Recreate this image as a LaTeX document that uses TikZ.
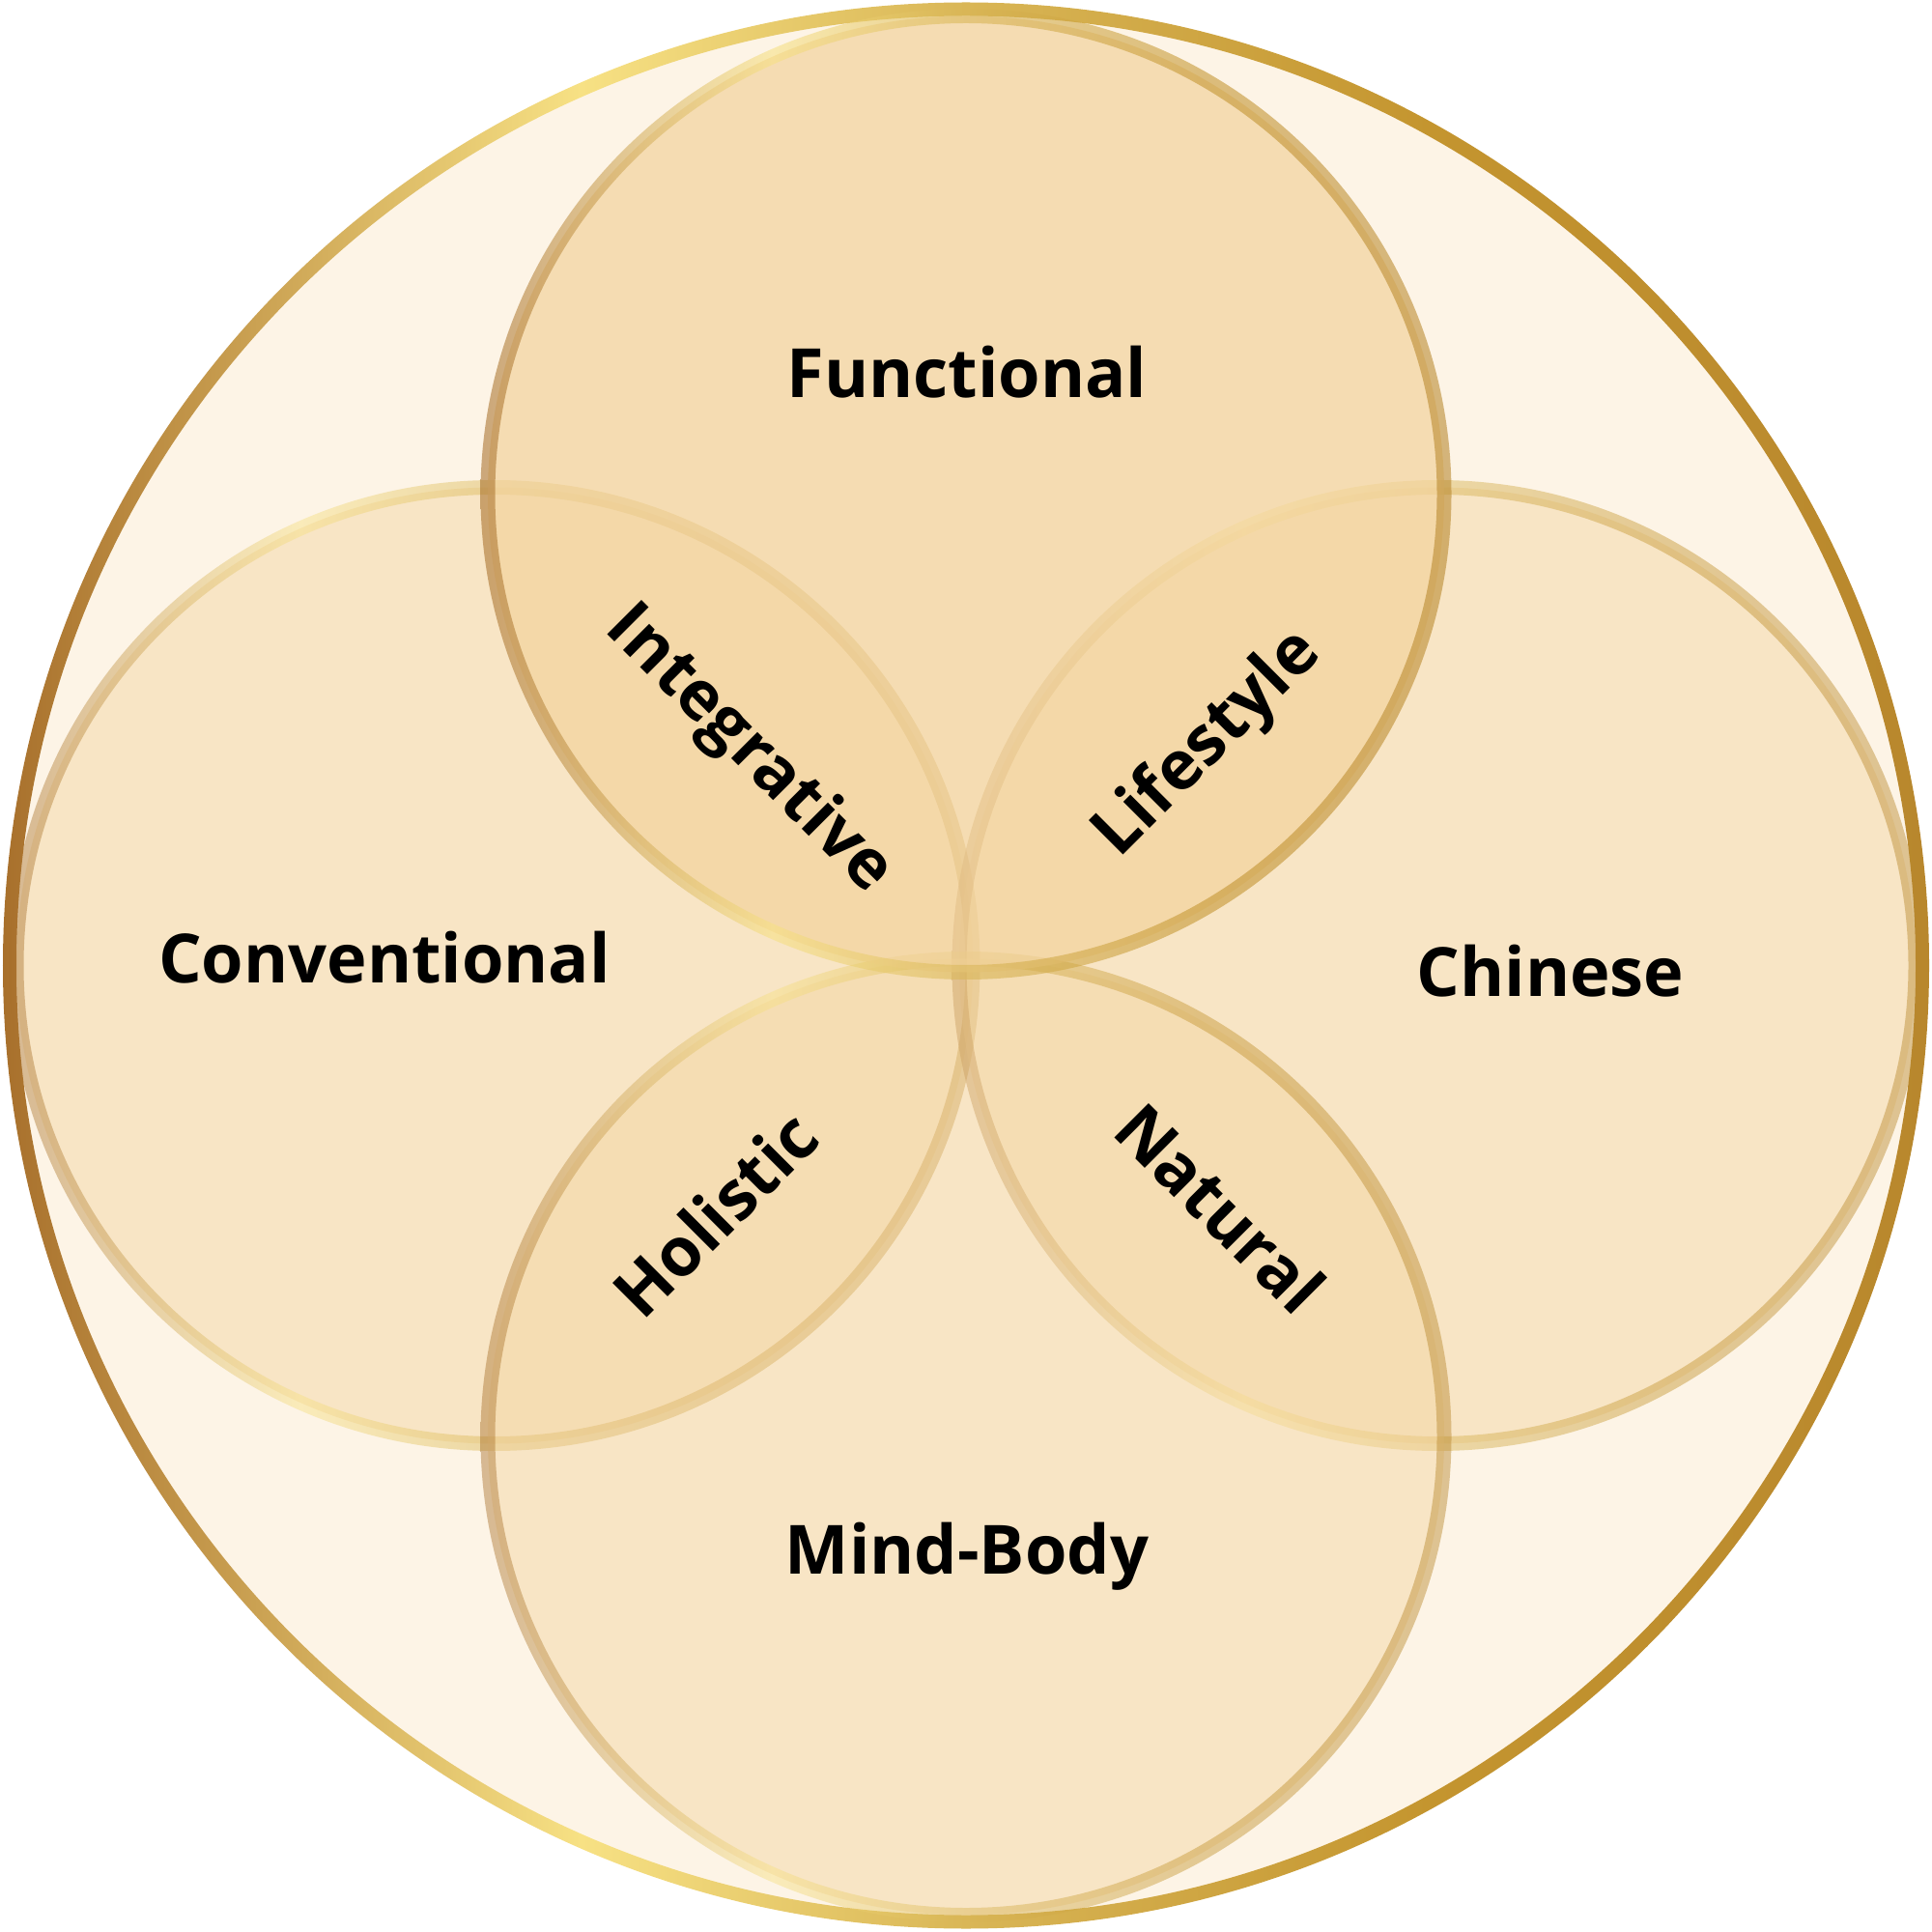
\documentclass[tikz,border=0pt]{standalone}
\usepackage{fontspec}
\setmainfont{Open Sans}
\definecolor{outerfill}{HTML}{FDF4E6}
\definecolor{petalfill}{HTML}{F3D49E}
\definecolor{ringbrown}{HTML}{A8702C}
\definecolor{ringyellow}{HTML}{F7E184}
\definecolor{ringgold}{HTML}{D9B656}
\definecolor{ringamber}{HTML}{C4952F}
\definecolor{ringdark}{HTML}{B8872D}
\pgfdeclarehorizontalshading{goldring}{100bp}{color(0bp)=(ringbrown); color(25bp)=(ringbrown);
  color(40bp)=(ringyellow); color(50bp)=(ringgold); color(62bp)=(ringamber);
  color(75bp)=(ringdark); color(100bp)=(ringdark)}
\begin{document}
\begin{tikzpicture}[
		every node/.style={font=\fontsize{20}{24}\selectfont\bfseries,inner sep=0,anchor=base},
		petal/.style={fill=petalfill},
		band/.style={shading=goldring,even odd rule}]
		\useasboundingbox (0,0) rectangle (20,19.99);
		% outer circle
		\fill[outerfill] (10,9.995) circle (9.9);
		\shade[band] (10,9.995) circle (9.97) (10,9.995) circle (9.83);
		% four petals: left, right, bottom, top
		\foreach \cx/\cy/\op/\rop in {5.12/9.995/0.45/0.45, 14.88/9.995/0.45/0.45,
				10/5.115/0.45/0.45, 10/14.875/0.72/0.58}{
			\fill[petal,fill opacity=\op] (\cx,\cy) circle (4.95);
			\shade[band,opacity=\rop] (\cx,\cy) circle (5.025) (\cx,\cy) circle (4.875);
		}
		% labels
		\node (functional) at (10.01,15.87) {Functional};
		\node (conventional) at (3.98,9.82) {Conventional};
		\node (chinese) at (16.05,9.68) {Chinese};
		\node (mindbody) at (10.01,3.70) {Mind-Body};
		\node[rotate=-45] (integrative) at (7.62,12.09) {Integrative};
		\node[rotate=45] (lifestyle) at (12.64,12.15) {Lifestyle};
		\node[rotate=45] (holistic) at (7.59,7.24) {Holistic};
		\node[rotate=-45] (natural) at (12.45,7.30) {Natural};
	\end{tikzpicture}
\end{document}
